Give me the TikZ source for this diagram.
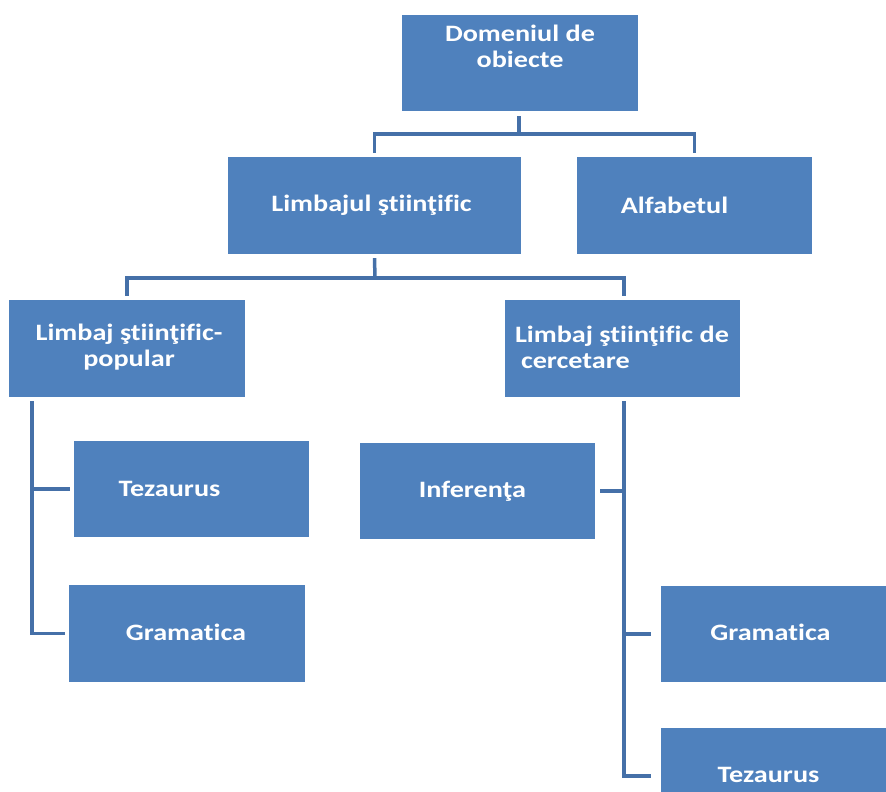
\documentclass[tikz,border=0pt]{standalone}
\usepackage{fontspec}
\setmainfont{Carlito}[FakeStretch=1.2,Ligatures={NoCommon}]
\definecolor{boxblue}{HTML}{4F81BD}
\definecolor{linkblue}{HTML}{4570A8}
\begin{document}
\begin{tikzpicture}[x=1pt,y=-1pt,
  box/.style={draw=none,fill=boxblue,minimum width=235pt,minimum height=96pt,inner sep=0pt},
  lbl/.style={text=white,font=\fontsize{23.5}{26}\selectfont\bfseries,align=center,inner sep=0pt},
  link/.style={draw=linkblue,line width=3.5pt}]
\useasboundingbox (0,0) rectangle (886,792);
\clip (0,0) rectangle (886,792);

% boxes
\node[box,minimum width=236pt] (dom) at (520,63) {};
\node[box,minimum width=293pt,minimum height=97pt] (lim) at (374.5,205.5) {};
\node[box,minimum height=97pt] (alf) at (694.5,205.5) {};
\node[box,minimum width=236pt,minimum height=97pt] (pop) at (127,348.5) {};
\node[box,minimum height=97pt] (cer) at (622.5,348.5) {};
\node[box] (tz1) at (191.5,489) {};
\node[box,minimum width=236pt,minimum height=97pt] (gr1) at (187,633.5) {};
\node[box] (inf) at (477.5,491) {};
\node[box] (gr2) at (778.5,634) {};
\node[box] (tz2) at (778.5,776) {};

% labels
\node[lbl] (tdom) at ([yshift=17pt]dom.center) {Domeniul de\\obiecte};
\node[lbl] (tlim) at ([xshift=-3pt]lim.center) {Limbajul ştiinţific};
\node[lbl] (talf) at ([xshift=-20pt]alf.center) {Alfabetul};
\node[lbl] (tpop) at ([xshift=2pt,yshift=1pt]pop.center) {Limbaj ştiinţific-\\popular};
\node[lbl,align=left,anchor=west] (tcer) at ([xshift=10pt,yshift=1pt]cer.west) {Limbaj ştiinţific de\\\hspace*{6pt}cercetare};
\node[lbl] (ttz1) at ([xshift=-22pt]tz1.center) {Tezaurus};
\node[lbl] (tgr1) at ([xshift=-1pt,yshift=1pt]gr1.center) {Gramatica};
\node[lbl] (tinf) at ([xshift=-5pt]inf.center) {Inferenţa};
\node[lbl] (tgr2) at ([xshift=-8pt,yshift=2pt]gr2.center) {Gramatica};
\node[lbl] (ttz2) at ([xshift=-10pt,yshift=1pt]tz2.center) {Tezaurus};

% connectors
\coordinate (j1) at (519,134);
\coordinate (j2) at (375,278);
\draw[link] ([xshift=-1pt,yshift=-5pt]dom.south) -- (j1);
\draw[link] ([yshift=4pt]lim.north) |- (j1) -| ([yshift=4pt]alf.north);
\draw[link] ([yshift=-4pt]lim.south) -- (j2);
\draw[link] ([yshift=4pt]pop.north) |- (j2) -| ([xshift=1.5pt,yshift=4pt]cer.north);

\coordinate (lv) at ([xshift=23pt,yshift=-4pt]pop.south west);
\draw[link] (lv) |- ([xshift=-4pt]gr1.west);
\draw[link] (lv |- tz1.west) -- ([xshift=-4pt]tz1.west);

\coordinate (rv) at ([xshift=1.5pt,yshift=-4pt]cer.south);
\draw[link] (rv) |- ([xshift=-10pt]tz2.west);
\draw[link] (rv |- gr2.west) -- ([xshift=-10pt]gr2.west);
\draw[link] ([xshift=5pt]inf.east) -- (rv |- inf.east);
\end{tikzpicture}
\end{document}
